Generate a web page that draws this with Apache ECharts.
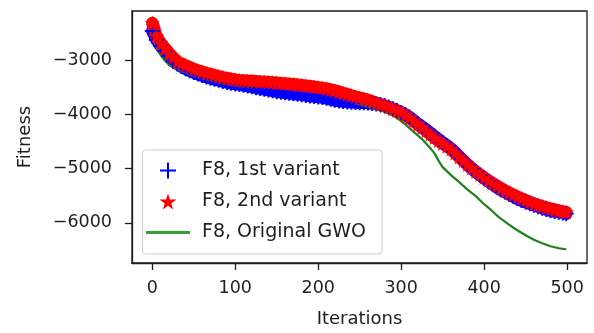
<!DOCTYPE html>
<html>
<head>
<meta charset="utf-8">
<script src="https://cdn.jsdelivr.net/npm/echarts@6/dist/echarts.min.js"></script>
<style>
html,body{margin:0;padding:0;background:#fff;}
#chart{width:594px;height:333px;}
</style>
</head>
<body>
<div id="chart"></div>
<script>
// Iteration index of each sampled point
const iterations = [0,5,10,15,20,25,30,35,40,45,50,55,60,65,70,75,80,85,90,95,
100,105,110,115,120,125,130,135,140,145,150,155,160,165,170,175,180,185,190,195,
200,205,210,215,220,225,230,235,240,245,250,255,260,265,270,275,280,285,290,295,
300,305,310,315,320,325,330,335,340,345,350,355,360,365,370,375,380,385,390,395,
400,405,410,415,420,425,430,435,440,445,450,455,460,465,470,475,480,485,490,495,499];

// F8, 1st variant (blue +)
const variant1 = [-2459,-2625,-2736,-2828,-2921,-3022,-3068,-3115,-3157,-3194,
-3225,-3253,-3281,-3309,-3331,-3351,-3369,-3392,-3410,-3425,
-3438,-3447,-3460,-3475,-3490,-3506,-3521,-3536,-3549,-3563,
-3580,-3591,-3600,-3610,-3619,-3628,-3637,-3647,-3658,-3669,
-3678,-3687,-3702,-3719,-3739,-3752,-3761,-3769,-3774,-3778,
-3781,-3785,-3789,-3798,-3807,-3817,-3835,-3863,-3894,-3927,
-3961,-4001,-4047,-4108,-4169,-4223,-4278,-4339,-4398,-4459,
-4515,-4570,-4629,-4700,-4777,-4851,-4925,-4999,-5060,-5119,
-5174,-5230,-5285,-5337,-5387,-5429,-5470,-5512,-5553,-5586,
-5618,-5645,-5673,-5701,-5729,-5753,-5775,-5790,-5802,-5817,-5830];

// F8, 2nd variant (red *)
const variant2 = [-2311,-2551,-2680,-2773,-2865,-2948,-3022,-3059,-3096,-3129,
-3161,-3188,-3212,-3235,-3253,-3275,-3296,-3314,-3331,-3345,
-3357,-3366,-3373,-3379,-3382,-3388,-3393,-3397,-3403,-3408,
-3414,-3421,-3429,-3436,-3443,-3451,-3460,-3469,-3478,-3488,
-3499,-3510,-3523,-3539,-3558,-3580,-3604,-3626,-3650,-3671,
-3691,-3711,-3733,-3759,-3785,-3813,-3841,-3870,-3900,-3931,
-3964,-4011,-4060,-4121,-4186,-4243,-4302,-4365,-4426,-4482,
-4537,-4589,-4639,-4713,-4786,-4857,-4925,-4990,-5054,-5110,
-5165,-5217,-5267,-5313,-5359,-5402,-5442,-5479,-5516,-5549,
-5581,-5614,-5645,-5669,-5692,-5716,-5738,-5756,-5775,-5790,-5803];

// F8, Original GWO (green line)
const original = [-2446,-2764,-2902,-3004,-3074,-3129,-3166,-3198,-3227,-3253,
-3279,-3303,-3327,-3353,-3373,-3390,-3406,-3425,-3442,-3456,
-3467,-3475,-3486,-3497,-3510,-3521,-3534,-3545,-3556,-3565,
-3575,-3586,-3595,-3604,-3613,-3624,-3637,-3652,-3669,-3684,
-3696,-3706,-3713,-3722,-3733,-3743,-3754,-3765,-3776,-3794,
-3815,-3835,-3857,-3878,-3900,-3924,-3950,-3983,-4020,-4066,
-4121,-4182,-4251,-4319,-4386,-4454,-4537,-4620,-4713,-4851,
-4971,-5045,-5119,-5184,-5248,-5318,-5387,-5448,-5507,-5581,
-5655,-5719,-5784,-5858,-5923,-5978,-6033,-6085,-6135,-6181,
-6227,-6270,-6311,-6344,-6375,-6403,-6431,-6449,-6468,-6479,-6486];

const xTicks = [0,100,200,300,400,500];
const yTicks = [-6000,-5000,-4000,-3000];
const seriesNames = ['F8, 1st variant','F8, 2nd variant','F8, Original GWO'];

const STAR = 'path://M50,0L61.23,34.55L97.55,34.55L68.17,55.9L79.39,90.45L50,69.1L20.61,90.45L31.83,55.9L2.45,34.55L38.77,34.55Z';
const PLUS = 'path://M0,7H7V0H9V7H16V9H9V16H7V9H0Z';
const DASH = 'path://M0,0H100V7H0Z';

const pairs = (xs, ys) => xs.map((x, i) => [x, ys[i]]);
const fmt = v => (v < 0 ? '\u2212' + Math.abs(v) : String(v));
const FONT = 'DejaVu Sans';
const INK = '#1e1e1e';
const BLUE = '#0000ff', RED = '#ff0000', GREEN = '#1d821d';

const chart = echarts.init(document.getElementById('chart'), null, {renderer: 'canvas'});
chart.setOption({
  animation: false,
  backgroundColor: '#ffffff',
  grid: {left: 132, top: 11, width: 455, height: 252, show: true,
         borderColor: INK, borderWidth: 1.3, backgroundColor: 'transparent'},
  xAxis: {
    type: 'value', min: -24.5, max: 524,
    name: 'Iterations', nameLocation: 'middle', nameGap: 47,
    nameTextStyle: {fontFamily: FONT, fontSize: 18, color: INK},
    axisLine: {show: true, onZero: false, lineStyle: {color: INK, width: 1.3}},
    axisTick: {show: true, length: 7, lineStyle: {color: INK, width: 1.3}, customValues: xTicks},
    axisLabel: {fontFamily: FONT, fontSize: 17.5, color: INK, margin: 16, customValues: xTicks, formatter: fmt},
    splitLine: {show: false}
  },
  yAxis: {
    type: 'value', min: -6740, max: -2090,
    name: 'Fitness', nameLocation: 'middle', nameGap: 98, nameRotate: 90,
    nameTextStyle: {fontFamily: FONT, fontSize: 18, color: INK},
    axisLine: {show: true, onZero: false, lineStyle: {color: INK, width: 1.3}},
    axisTick: {show: true, length: 7, lineStyle: {color: INK, width: 1.3}, customValues: yTicks},
    axisLabel: {fontFamily: FONT, fontSize: 17.5, color: INK, margin: 20, customValues: yTicks, formatter: fmt},
    splitLine: {show: false}
  },
  legend: {
    orient: 'vertical', left: 142.5, top: 150,
    itemWidth: 44, itemHeight: 16, itemGap: 12,
    padding: [11, 16, 12, 3.5],
    backgroundColor: 'rgba(255,255,255,0.85)', borderColor: '#cfcfcf', borderWidth: 1, borderRadius: 3,
    textStyle: {fontFamily: FONT, fontSize: 19, color: INK, padding: [0, 0, 0, 7]},
    data: [
      {name: seriesNames[0], icon: PLUS, itemStyle: {color: BLUE}},
      {name: seriesNames[1], icon: STAR, itemStyle: {color: RED}},
      {name: seriesNames[2], icon: DASH, itemStyle: {color: '#34a034'}}
    ]
  },
  series: [
    {name: seriesNames[0], type: 'line', data: pairs(iterations, variant1),
     symbol: PLUS, symbolSize: 15, showSymbol: true,
     lineStyle: {width: 12.5, color: BLUE, cap: 'round', join: 'round'},
     itemStyle: {color: BLUE}},
    {name: seriesNames[1], type: 'line', data: pairs(iterations, variant2),
     symbol: STAR, symbolSize: [15.5, 14.8], showSymbol: true,
     lineStyle: {width: 12.5, color: RED, cap: 'round', join: 'round'},
     itemStyle: {color: RED}},
    {name: seriesNames[2], type: 'line', data: pairs(iterations, original),
     symbol: 'none', showSymbol: false, lineStyle: {width: 2.2, color: GREEN}, itemStyle: {color: GREEN}}
  ]
});
</script>
</body>
</html>
